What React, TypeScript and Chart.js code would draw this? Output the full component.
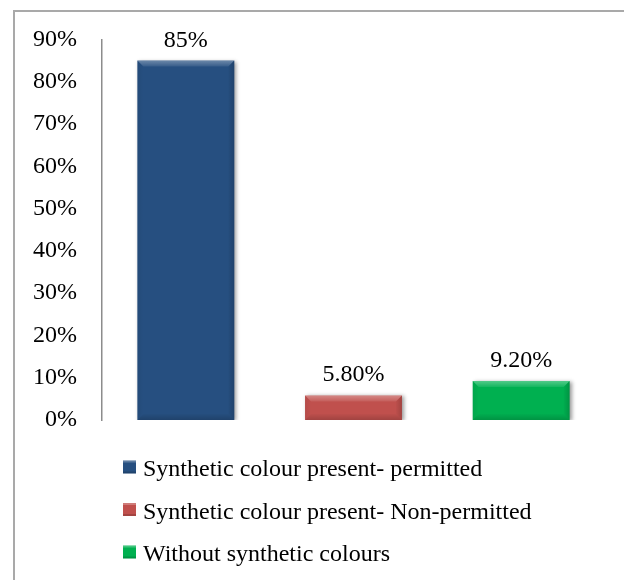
import React, { useEffect, useRef } from "react";
import { Chart, registerables } from "chart.js";

Chart.register(...registerables);

// Share of samples (%) in each colour category
const categories = [
  "Synthetic colour present- permitted",
  "Synthetic colour present- Non-permitted",
  "Without synthetic colours",
];
const values = [85, 5.8, 9.2];
const barColors = ["#264F80", "#C0504D", "#00B050"];
const yMin = 0;
const yMax = 90;
const yStep = 10;

const FONT = "'Liberation Serif', 'Times New Roman', serif";

const formatValue = (v: number) =>
  Number.isInteger(v) ? `${v}%` : `${v.toFixed(2)}%`;

// Soft drop shadow under bars plus a bevelled edge on each bar
const bevelPlugin = {
  id: "bevel",
  beforeDatasetsDraw(chart: any) {
    const ctx = chart.ctx;
    ctx.save();
    ctx.shadowColor = "rgba(0,0,0,0.4)";
    ctx.shadowBlur = 4;
    ctx.shadowOffsetX = 2;
    ctx.shadowOffsetY = 1;
  },
  afterDatasetsDraw(chart: any) {
    const ctx = chart.ctx;
    ctx.restore();
    const meta = chart.getDatasetMeta(0);
    meta.data.forEach((bar: any) => {
      const { x, y, base, width } = bar.getProps(["x", "y", "base", "width"], true);
      const l = x - width / 2;
      const r = x + width / 2;
      const t = Math.min(y, base);
      const b = Math.max(y, base);
      const d = Math.min(6, (b - t) / 2);
      const facet = (pts: number[][], fill: any) => {
        ctx.beginPath();
        ctx.moveTo(pts[0][0], pts[0][1]);
        for (let i = 1; i < pts.length; i++) ctx.lineTo(pts[i][0], pts[i][1]);
        ctx.closePath();
        ctx.fillStyle = fill;
        ctx.fill();
      };
      ctx.save();
      const g = ctx.createLinearGradient(0, t, 0, t + d);
      g.addColorStop(0, "rgba(255,255,255,0.32)");
      g.addColorStop(1, "rgba(255,255,255,0.08)");
      facet([[l, t], [r, t], [r - d, t + d], [l + d, t + d]], g);
      const gl = ctx.createLinearGradient(l, 0, l + d, 0);
      gl.addColorStop(0, "rgba(0,0,0,0.06)");
      gl.addColorStop(1, "rgba(0,0,0,0)");
      facet([[l, t], [l + d, t + d], [l + d, b - d], [l, b]], gl);
      const gr = ctx.createLinearGradient(r, 0, r - d, 0);
      gr.addColorStop(0, "rgba(0,0,0,0.16)");
      gr.addColorStop(1, "rgba(0,0,0,0.02)");
      facet([[r, t], [r, b], [r - d, b - d], [r - d, t + d]], gr);
      const gb = ctx.createLinearGradient(0, b, 0, b - d);
      gb.addColorStop(0, "rgba(0,0,0,0.16)");
      gb.addColorStop(1, "rgba(0,0,0,0.02)");
      facet([[l, b], [l + d, b - d], [r - d, b - d], [r, b]], gb);
      ctx.restore();
    });
  },
};

// Value labels above each bar
const valueLabelPlugin = {
  id: "valueLabels",
  afterDatasetsDraw(chart: any) {
    const ctx = chart.ctx;
    const meta = chart.getDatasetMeta(0);
    ctx.save();
    ctx.font = `24px ${FONT}`;
    ctx.fillStyle = "#000";
    ctx.textAlign = "center";
    ctx.textBaseline = "alphabetic";
    meta.data.forEach((bar: any, i: number) => {
      const { x, y } = bar.getProps(["x", "y"], true);
      ctx.fillText(formatValue(values[i]), x, y - 14);
    });
    ctx.restore();
  },
};

// Stacked legend block below the plot
const legendPlugin = {
  id: "stackLegend",
  afterDraw(chart: any) {
    const ctx = chart.ctx;
    const area = chart.chartArea;
    const left = area.left + 21;
    const firstRow = area.bottom + 47;
    const rowGap = 42.5;
    ctx.save();
    ctx.font = `24px ${FONT}`;
    ctx.textBaseline = "alphabetic";
    ctx.textAlign = "left";
    categories.forEach((label, i) => {
      const cy = firstRow + i * rowGap;
      const s = 13;
      ctx.fillStyle = barColors[i];
      ctx.fillRect(left, cy - s / 2, s, s);
      ctx.fillStyle = "rgba(255,255,255,0.25)";
      ctx.fillRect(left, cy - s / 2, s, 2);
      ctx.fillStyle = "rgba(0,0,0,0.15)";
      ctx.fillRect(left, cy + s / 2 - 2, s, 2);
      ctx.fillStyle = "#000";
      ctx.fillText(label, left + 20, cy + 9);
    });
    ctx.restore();
  },
};

export default function App() {
  const canvasRef = useRef<HTMLCanvasElement | null>(null);

  useEffect(() => {
    if (!canvasRef.current) return;
    const chart = new Chart(canvasRef.current, {
      type: "bar",
      data: {
        labels: categories,
        datasets: [
          {
            data: values,
            backgroundColor: barColors,
            borderWidth: 0,
            barPercentage: 0.578,
            categoryPercentage: 1,
          },
        ],
      },
      options: {
        responsive: false,
        animation: false,
        devicePixelRatio: 1,
        layout: { padding: { left: 0, right: 19, top: 38, bottom: 160 } },
        plugins: {
          legend: { display: false },
          tooltip: { enabled: false },
        },
        scales: {
          x: { display: false },
          y: {
            min: yMin,
            max: yMax,
            grid: { display: false, drawTicks: false },
            border: { display: true, color: "#8c8c8c", width: 1.5 },
            ticks: {
              stepSize: yStep,
              padding: 25,
              color: "#000",
              font: { family: FONT, size: 24 },
              callback: (v: any) => `${v}%`,
            },
            afterFit: (scale: any) => {
              scale.width = 102;
            },
          },
        },
      },
      plugins: [bevelPlugin, valueLabelPlugin, legendPlugin],
    });
    return () => chart.destroy();
  }, []);

  return (
    <div
      style={{
        position: "fixed",
        left: 0,
        top: 0,
        width: 624,
        height: 580,
        overflow: "hidden",
        background: "#fff",
      }}
    >
      <div
        style={{
          position: "absolute",
          left: 13,
          top: 10,
          width: 800,
          height: 800,
          border: "2px solid #a9a9a9",
        }}
      />
      <canvas
        ref={canvasRef}
        width={624}
        height={580}
        style={{ position: "absolute", left: 0, top: 0, width: 624, height: 580 }}
      />
    </div>
  );
}
